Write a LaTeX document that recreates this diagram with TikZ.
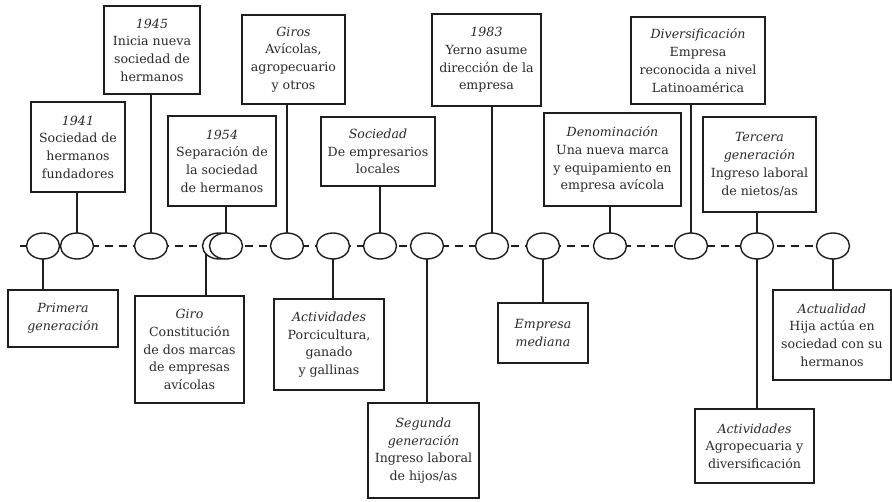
\documentclass[tikz,border=0pt]{standalone}
\usepackage{fontspec}
\setmainfont{DejaVu Serif}
\usetikzlibrary{backgrounds,shapes.geometric}
\definecolor{ink}{HTML}{1E1E1E}
\definecolor{txt}{HTML}{2A2A2A}
\begin{document}
\begin{tikzpicture}[x=1pt,y=-1pt,
  event/.style={draw=ink, line width=1.4pt, fill=white, ellipse, minimum width=33pt, minimum height=26pt, inner sep=0pt},
  card/.style n args={2}{draw=ink, line width=1.1pt, fill=white, align=center, inner sep=0pt,
    minimum width=#1, minimum height=#2, text=txt, font=\fontsize{12.6}{17.7}\selectfont},
  link/.style={draw=ink, line width=1.1pt},
  axis/.style={draw=ink, line width=1.3pt, dash pattern=on 8pt off 6pt}]
\useasboundingbox (0,0) rectangle (892,501);

% events on the time axis
\node[event] (e1) at (43,246) {};
\node[event] (e2) at (77,246) {};
\node[event] (e3) at (151,246) {};
\node[event] (e4a) at (219,246) {};
\node[event] (e4b) at (226,246) {};
\node[event] (e5) at (287,246) {};
\node[event] (e6) at (333,246) {};
\node[event] (e7) at (380,246) {};
\node[event] (e8) at (427,246) {};
\node[event] (e9) at (492,246) {};
\node[event] (e10) at (543,246) {};
\node[event] (e11) at (610,246) {};
\node[event] (e12) at (691,246) {};
\node[event] (e13) at (757,246) {};
\node[event] (e14) at (833,246) {};

% cards above the axis
\node[card={94pt}{90pt}] (b1941) at (78,147) {\textit{1941}\\Sociedad de\\hermanos\\fundadores};
\node[card={96pt}{88pt}] (b1945) at (152,50) {\textit{1945}\\Inicia nueva\\sociedad de\\hermanos};
\node[card={103pt}{89pt}] (bgiros) at (293.5,59.5) {\textit{Giros}\\Avícolas,\\agropecuario\\y otros};
\node[card={108pt}{90pt}] (b1954) at (222,161) {\textit{1954}\\Separación de\\la sociedad\\de hermanos};
\node[card={114pt}{69pt}] (bsoc) at (378,151.5) {\textit{Sociedad}\\De empresarios\\locales};
\node[card={109pt}{92pt}] (b1983) at (486.5,60) {\textit{1983}\\Yerno asume\\dirección de la\\empresa};
\node[card={137pt}{93pt}] (bden) at (612.5,159.5) {\textit{Denominación}\\Una nueva marca\\y equipamiento en\\empresa avícola};
\node[card={134pt}{87pt}] (bdiv) at (698,60.5) {\textit{Diversificación}\\Empresa\\reconocida a nivel\\Latinoamérica};
\node[card={113pt}{95pt}] (bter) at (759.5,164.5) {\textit{Tercera}\\\textit{generación}\\Ingreso laboral\\de nietos/as};

% cards below the axis
\node[card={110pt}{57pt}] (bprim) at (63,318.5) {\textit{Primera}\\\textit{generación}};
\node[card={109pt}{107pt}] (bgiro) at (189.5,349.5) {\textit{Giro}\\Constitución\\de dos marcas\\de empresas\\avícolas};
\node[card={110pt}{91pt}] (bact) at (329,344.5) {\textit{Actividades}\\Porcicultura,\\ganado\\y gallinas};
\node[card={111pt}{95pt}] (bseg) at (423.5,450.5) {\textit{Segunda}\\\textit{generación}\\Ingreso laboral\\de hijos/as};
\node[card={90pt}{60pt}] (bemp) at (543,333) {\textit{Empresa}\\\textit{mediana}};
\node[card={119pt}{74pt}] (bact2) at (754.5,446) {\textit{Actividades}\\Agropecuaria y\\diversificación};
\node[card={118pt}{90pt}] (bactu) at (832,335) {\textit{Actualidad}\\Hija actúa en\\sociedad con su\\hermanos};

\begin{scope}[on background layer]
  % time axis
  \coordinate (start) at (20,246);
  \draw[link, line width=1.3pt] (start) -- (e1.center);
  \draw[axis] (e2.center) -- (e14.center);
  % links from the cards to their events
  \draw[link] (e2.center) -- (b1941.south -| e2.center);
  \draw[link] (e3.center) -- (b1945.south -| e3.center);
  \draw[link] (e5.center) -- (bgiros.south -| e5.center);
  \draw[link] (e4b.center) -- (b1954.south -| e4b.center);
  \draw[link] (e7.center) -- (bsoc.south -| e7.center);
  \draw[link] (e9.center) -- (b1983.south -| e9.center);
  \draw[link] (e11.center) -- (bden.south -| e11.center);
  \draw[link] (e12.center) -- (bdiv.south -| e12.center);
  \draw[link] (e13.center) -- (bter.south -| e13.center);
  \draw[link] (e1.center) -- (bprim.north -| e1.center);
  \coordinate (g4) at ([xshift=-13pt]e4a.center);
  \draw[link] (g4) -- (bgiro.north -| g4);
  \draw[link] (e6.center) -- (bact.north -| e6.center);
  \draw[link] (e8.center) -- (bseg.north -| e8.center);
  \draw[link] (e10.center) -- (bemp.north -| e10.center);
  \draw[link] (e13.center) -- (bact2.north -| e13.center);
  \draw[link] (e14.center) -- (bactu.north -| e14.center);
\end{scope}
\end{tikzpicture}
\end{document}
